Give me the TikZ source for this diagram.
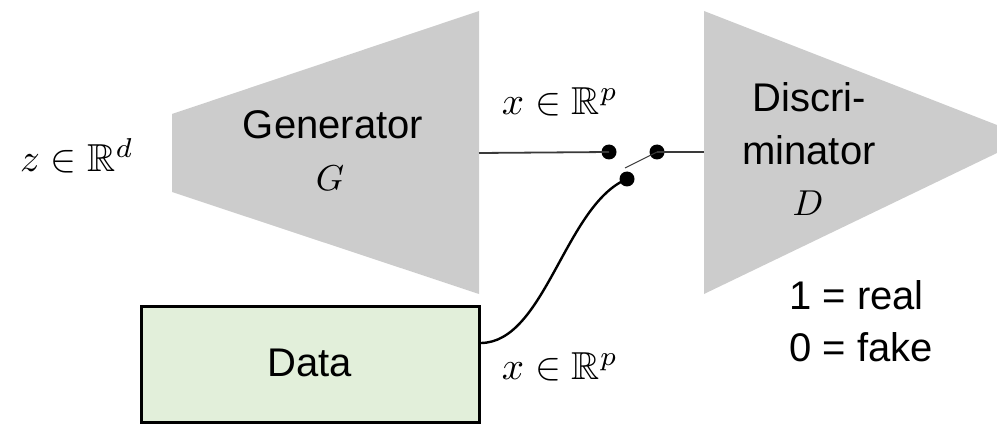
\documentclass[tikz,border=0pt]{standalone}
\usepackage{fontspec}
\setmainfont{Liberation Sans}
\usepackage{amssymb}
\usepackage{graphicx}
\definecolor{netgray}{HTML}{CCCCCC}
\definecolor{datagreen}{HTML}{E2EFDA}
\definecolor{wiregray}{HTML}{3A3A3A}
\newcommand{\bigmath}[1]{\scalebox{3.9}{$#1$}}
\newcommand{\letmath}[1]{\scalebox{3.6}{$#1$}}
\begin{document}
\begin{tikzpicture}[x=1pt,y=-1pt,
  lbl/.style={inner sep=0pt,font=\fontsize{40}{48}\selectfont},
  mth/.style={inner sep=0pt},
  wire/.style={draw=wiregray,line width=1.8pt},
  dot/.style={circle,fill=black,inner sep=0pt,minimum size=15pt},
  databox/.style={draw=black,line width=3pt,fill=datagreen,minimum width=338pt,minimum height=116pt,inner sep=0pt}]
\useasboundingbox (0,0) rectangle (997,425);
% networks
\fill[netgray] (172,114) -- (479,11) -- (479,294) -- (172,192) -- cycle;
\fill[netgray] (704,11) -- (997,125) -- (997,153) -- (704,294) -- cycle;
\coordinate (gout) at (479,153);
\coordinate (din) at (704,152);
% labels
\node[lbl] (gen) at (333,125) {Generator};
\node[mth] (G) at (330,178) {\letmath{G}};
\node[lbl] (disc1) at (809,97) {Discri-};
\node[lbl] (disc2) at (809,150) {minator};
\node[mth] (D) at (808,203) {\letmath{D}};
\node[lbl,anchor=west] (real) at (789,295) {1 = real};
\node[lbl,anchor=west] (fake) at (789,347) {0 = fake};
\node[mth] (z) at (77,156) {\bigmath{z\in\mathbb{R}^d}};
\node[mth] (xg) at (560,102) {\bigmath{x\in\mathbb{R}^p}};
\node[mth] (xd) at (560,367) {\bigmath{x\in\mathbb{R}^p}};
% data
\node[databox] (data) at (310,364) {};
\node[lbl] (datatxt) at (310,363) {Data};
% switch
\node[dot] (s1) at (609,152) {};
\node[dot] (s2) at (657,152) {};
\node[dot] (s3) at (627,179) {};
\coordinate (arm) at (625,168);
\draw[wire] (gout) -- (s1.center);
\draw[wire] (s2.center) -- (din);
\draw[draw=wiregray,line width=1pt] (s2.center) -- (arm);
\draw[black,line width=2.4pt] ([yshift=21pt]data.east) .. controls (545,343) and (565,205) .. (s3.center);
\end{tikzpicture}
\end{document}
